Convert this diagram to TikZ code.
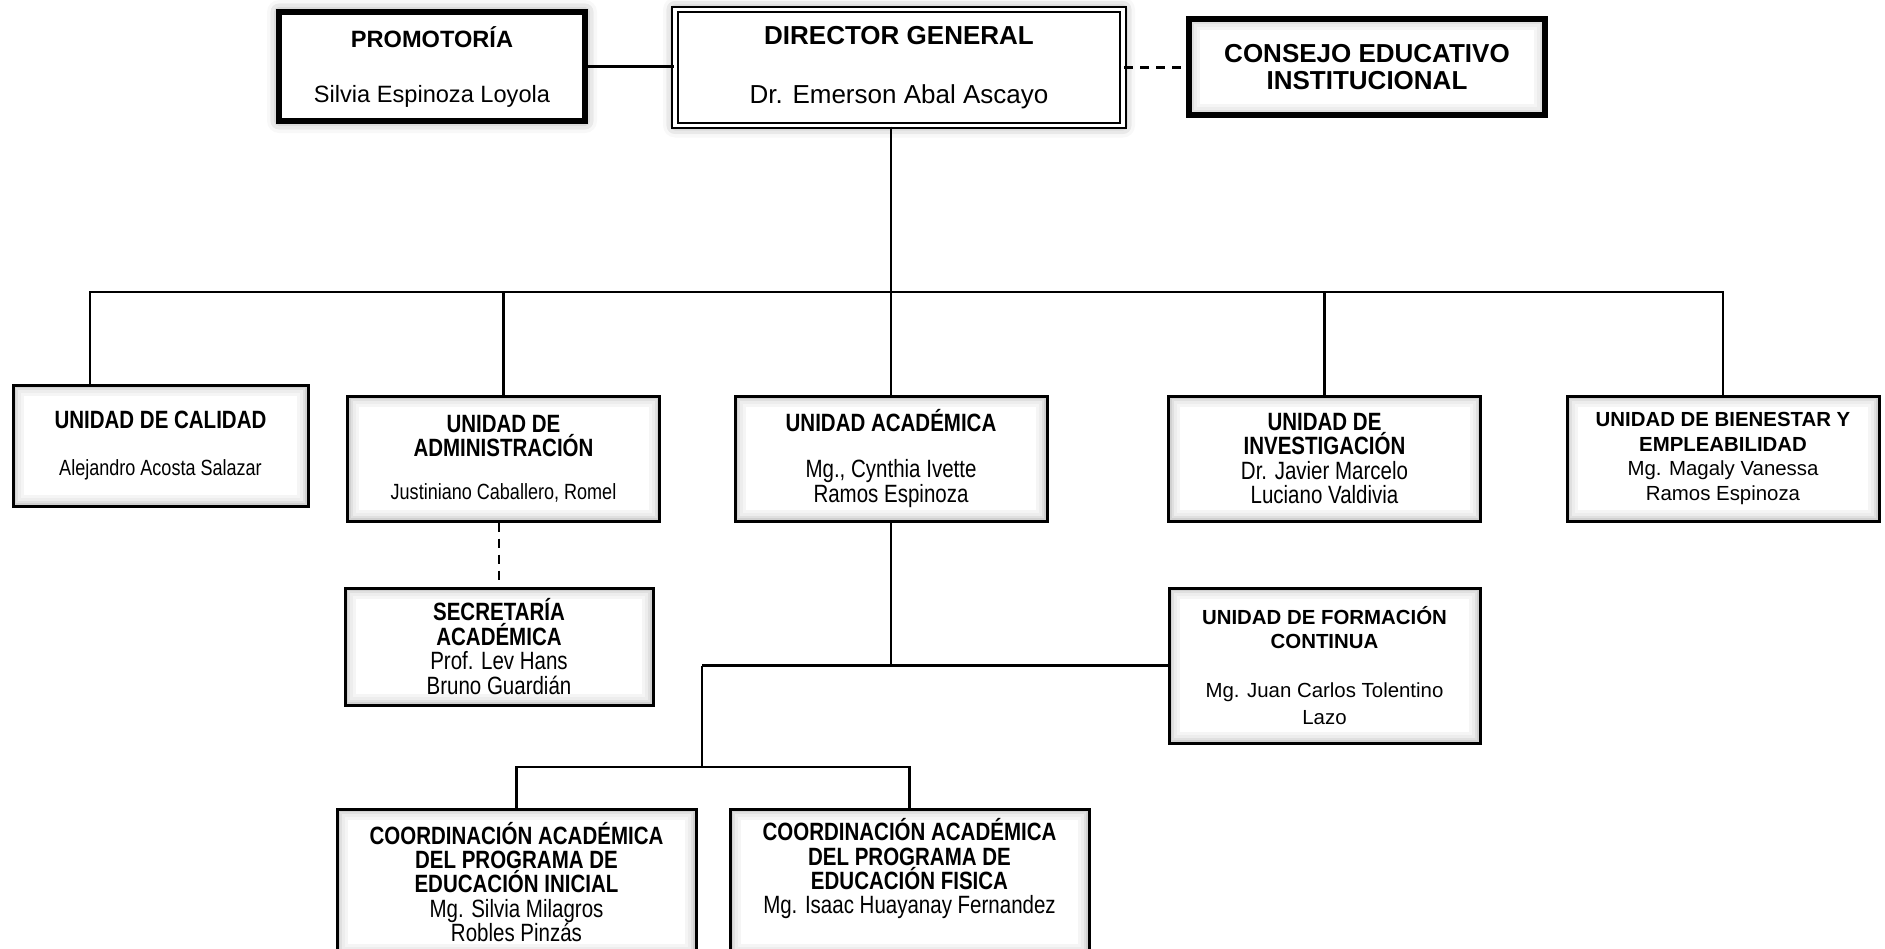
\documentclass[tikz,border=0pt]{standalone}
\usepackage{fontspec}
\setmainfont{Liberation Sans}
\newfontfamily\narrowfont[FakeStretch=0.82]{Liberation Sans}
\usetikzlibrary{shadows.blur}

\begin{document}
\begin{tikzpicture}[
  x=0.5pt, y=-0.5pt,
  box/.style={draw, line width=1.5pt, fill=white, align=center, inner sep=2pt,
              path picture={
                \foreach \w/\c in {11/4,8/7,5/12,3/18,1.5/28}
                  \draw[line width=\w pt, black!\c]
                    (path picture bounding box.south west) rectangle
                    (path picture bounding box.north east);}},
  narrow/.style={box, font=\narrowfont\fontsize{12.5}{12.2}\selectfont},
  wide/.style={box, font=\fontsize{10.2}{12.3}\selectfont},
  unit/.style={minimum width=156pt, minimum height=62.5pt},
  glow/.style={blur shadow={shadow xshift=0pt, shadow yshift=0pt,
                            shadow blur radius=6pt, shadow opacity=45}},
  link/.style={line width=1.1pt},
  dlink/.style={line width=1.2pt, dash pattern=on 4.5pt off 3.5pt},
]
\useasboundingbox (0,0) rectangle (1885,948);
\clip (0,0) rectangle (1885,948);

% --- top row ---
\node[draw, line width=2.8pt, fill=white, glow, align=center,
      minimum width=153pt, minimum height=54.5pt,
      font=\fontsize{11.8}{14}\selectfont] (promo) at (432,66.5)
  {\textbf{PROMOTORÍA}\\[13.5pt] Silvia Espinoza Loyola};
\node[draw, double, line width=1.1pt, double distance=1.6pt, fill=white,
      glow, align=center, minimum width=224pt, minimum height=58pt,
      font=\fontsize{13}{15.6}\selectfont] (dir) at (899,67.5)
  {\textbf{DIRECTOR GENERAL}\\[14pt] Dr. Emerson Abal Ascayo};
\node[box, line width=2.8pt, minimum width=178pt, minimum height=48pt,
      font=\bfseries\fontsize{13}{13.5}\selectfont] (cons) at (1367,67)
  {CONSEJO EDUCATIVO\\INSTITUCIONAL};

% --- units ---
\node[narrow, minimum width=147.5pt, minimum height=60.5pt] (calidad) at (160.5,445.5)
  {\textbf{UNIDAD DE CALIDAD}\\[11pt]{\fontsize{11}{12}\selectfont Alejandro Acosta Salazar}};
\node[narrow, unit] (admin) at (503.5,458.5)
  {\textbf{UNIDAD DE}\\\textbf{ADMINISTRACIÓN}\\[9pt]{\fontsize{11}{12}\selectfont Justiniano Caballero, Romel}};
\node[narrow, unit] (acad) at (891,458.5)
  {\textbf{UNIDAD ACADÉMICA}\\[11pt]Mg., Cynthia Ivette\\Ramos Espinoza};
\node[narrow, unit] (inv) at (1324.5,458.5)
  {\textbf{UNIDAD DE}\\\textbf{INVESTIGACIÓN}\\Dr. Javier Marcelo\\Luciano Valdivia};
\node[wide, unit] (bien) at (1723,458.5)
  {\textbf{UNIDAD DE BIENESTAR Y}\\\textbf{EMPLEABILIDAD}\\Mg. Magaly Vanessa\\Ramos Espinoza};

% --- lower levels ---
\node[narrow, minimum width=154pt, minimum height=58.5pt] (secre) at (499,646.5)
  {\textbf{SECRETARÍA}\\\textbf{ACADÉMICA}\\Prof. Lev Hans\\Bruno Guardián};
\node[wide, minimum width=155.5pt, minimum height=77.5pt] (form) at (1324.5,665.5)
  {\textbf{UNIDAD DE FORMACIÓN}\\\textbf{CONTINUA}\\[12pt]Mg. Juan Carlos Tolentino\\[1.5pt]Lazo};
\node[narrow, minimum width=179.5pt, minimum height=73pt] (coordA) at (516.5,882)
  {\textbf{COORDINACIÓN ACADÉMICA}\\\textbf{DEL PROGRAMA DE}\\\textbf{EDUCACIÓN INICIAL}\\Mg. Silvia Milagros\\Robles Pinzás};
\node[narrow, minimum width=179.5pt, minimum height=73pt] (coordB) at (909.5,882)
  {\textbf{COORDINACIÓN ACADÉMICA}\\\textbf{DEL PROGRAMA DE}\\\textbf{EDUCACIÓN FISICA}\\Mg. Isaac Huayanay Fernandez\\\strut};

% --- connectors ---
\coordinate (busL) at (90,292);
\coordinate (split) at (702,665.5);
\coordinate (bar) at (702,767);

\draw[link] (promo.east) -- (promo.east -| dir.west);
\draw[dlink] (dir.east) -- (dir.east -| cons.west);
\draw[link] (acad.north |- dir.south) -- (acad.north);
\draw[link] (busL |- calidad.north) -- (busL) -- (bien.north |- busL) -- (bien.north);
\foreach \u in {admin, inv}
  \draw[link] (\u.north) -- (\u.north |- busL);
\draw[dlink] (secre.north |- admin.south) -- (secre.north);
\draw[link] (acad.south) -- (acad.south |- split);
\draw[link] (split) -- (form.west);
\draw[link] (split) -- (bar);
\draw[link] (coordA.north) |- (bar) -| (coordB.north);
\end{tikzpicture}
\end{document}
